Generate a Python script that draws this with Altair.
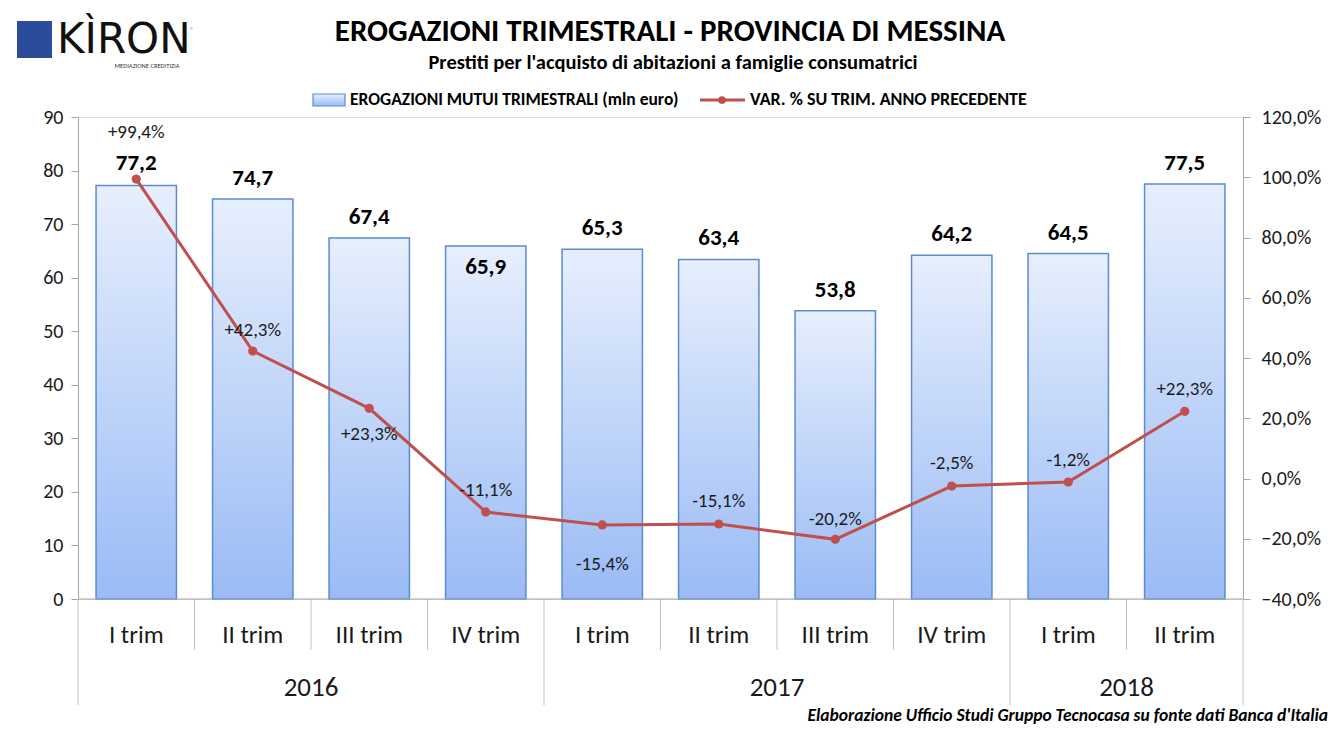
import altair as alt
import pandas as pd

# ---------------- data ----------------
quarters = ["I trim", "II trim", "III trim", "IV trim", "I trim",
            "II trim", "III trim", "IV trim", "I trim", "II trim"]
years = ["2016", "2016", "2016", "2016", "2017",
         "2017", "2017", "2017", "2018", "2018"]
erogazioni = [77.2, 74.7, 67.4, 65.9, 65.3, 63.4, 53.8, 64.2, 64.5, 77.5]
variazione = [99.4, 42.3, 23.3, -11.1, -15.4, -15.1, -20.2, -2.5, -1.2, 22.3]

title_text = "EROGAZIONI TRIMESTRALI - PROVINCIA DI MESSINA"
subtitle_text = "Prestiti per l'acquisto di abitazioni a famiglie consumatrici"
legend_bar = "EROGAZIONI MUTUI TRIMESTRALI (mln euro)"
legend_line = "VAR. % SU TRIM. ANNO PRECEDENTE"
footnote = "Elaborazione  Ufficio Studi Gruppo Tecnocasa su fonte dati Banca d'Italia"

# ---------------- styling ----------------
W, H = 1165, 482
FONT = "Carlito, Lato, sans-serif"
TXT = "#1a1a1a"
GRAY = "#a6a6a6"
RED = "#c0504d"
BAR_STROKE = "#5b8bd0"
grad = alt.Gradient(
    gradient="linear",
    stops=[alt.GradientStop(color="#e7effd", offset=0),
           alt.GradientStop(color="#9abbf5", offset=1)],
    x1=0, x2=0, y1=0, y2=1,
)
# label offsets in pixels (styling only)
bar_dy = {0: -23, 3: 21}
line_dy = {0: -47, 1: -21, 2: 26, 3: -22, 4: 39, 5: -23, 6: -20, 7: -23, 8: -22, 9: -22}

n = len(quarters)
df = pd.DataFrame({"idx": range(n), "quarter": quarters, "year": years,
                   "erog": erogazioni, "var": variazione})
df["center"] = df["idx"] + 0.5
df["x0"] = df["idx"] + 0.155
df["x1"] = df["idx"] + 0.845
df["blabel"] = [f"{v:.1f}".replace(".", ",") for v in erogazioni]
df["llabel"] = [("+" if v > 0 else "") + f"{v:.1f}".replace(".", ",") + "%" for v in variazione]
df["bdy"] = [bar_dy.get(i, -21) for i in range(n)]
df["ldy"] = [line_dy.get(i, -22) for i in range(n)]

# separators
year_bounds = [0] + [i for i in range(1, n) if years[i] != years[i - 1]] + [n]
q_bounds = [i for i in range(1, n) if i not in year_bounds]
ysep = pd.DataFrame({"pos": year_bounds})
qsep = pd.DataFrame({"pos": q_bounds})
ydf = df.groupby("year", as_index=False)["center"].mean()

xs = alt.Scale(domain=[0, n], nice=False, zero=False)

sep_q = alt.Chart(qsep).mark_rule(color="#bfbfbf", strokeWidth=1).encode(
    x=alt.X("pos:Q", scale=xs, axis=None), y=alt.value(H), y2=alt.value(H + 51))
sep_y = alt.Chart(ysep).mark_rule(color="#bfbfbf", strokeWidth=1).encode(
    x=alt.X("pos:Q", scale=xs, axis=None), y=alt.value(H), y2=alt.value(H + 106))

base = alt.Chart(df)

bars = base.mark_bar(fill=grad, stroke=BAR_STROKE, strokeWidth=1.5).encode(
    x=alt.X("x0:Q", scale=xs, axis=None),
    x2="x1:Q",
    y=alt.Y("erog:Q", scale=alt.Scale(domain=[0, 90], nice=False),
            axis=alt.Axis(values=list(range(0, 91, 10)), title=None, grid=False,
                          domainColor=GRAY, tickColor=GRAY, tickSize=7,
                          labelFontSize=20, labelColor=TXT, labelFont=FONT,
                          labelPadding=8)),
    y2=alt.datum(0),
)
bar_label_layers = [
    base.transform_filter(alt.datum.bdy == d).mark_text(
        fontSize=23, fontWeight="bold", font=FONT, color="#000",
        baseline="middle", dy=d).encode(
        x=alt.X("center:Q", scale=xs, axis=None),
        y=alt.Y("erog:Q"),
        text="blabel:N",
    )
    for d in sorted(set(df["bdy"]))
]
bar_group = alt.layer(bars, *bar_label_layers)

line = base.mark_line(color=RED, strokeWidth=3).encode(
    x=alt.X("center:Q", scale=xs, axis=None),
    y=alt.Y("var:Q", scale=alt.Scale(domain=[-40, 120], nice=False),
            axis=alt.Axis(orient="right", values=list(range(-40, 121, 20)), title=None,
                          grid=False, domainColor=GRAY, tickColor=GRAY, tickSize=7,
                          labelFontSize=20, labelColor=TXT, labelFont=FONT,
                          labelPadding=11,
                          labelExpr="replace(format(datum.value, '.1f'), '.', ',') + '%'")),
)
points = base.mark_circle(color=RED, size=85, opacity=1).encode(
    x=alt.X("center:Q", scale=xs, axis=None), y="var:Q")
line_label_layers = [
    base.transform_filter(alt.datum.ldy == d).mark_text(
        fontSize=19, font=FONT, color=TXT, baseline="middle", dy=d).encode(
        x=alt.X("center:Q", scale=xs, axis=None),
        y="var:Q",
        text="llabel:N",
    )
    for d in sorted(set(df["ldy"]))
]
line_group = alt.layer(line, points, *line_label_layers)

one = pd.DataFrame({"a": [0]})

# x axis line
xline = alt.Chart(one).mark_rule(color=GRAY, strokeWidth=1).encode(
    x=alt.value(0), x2=alt.value(W), y=alt.value(H))

cat_labels = base.mark_text(fontSize=25, font=FONT, color=TXT, baseline="middle").encode(
    x=alt.X("center:Q", scale=xs, axis=None), y=alt.value(H + 36), text="quarter:N")
year_labels = alt.Chart(ydf).mark_text(fontSize=27, font=FONT, color=TXT,
                                       baseline="middle").encode(
    x=alt.X("center:Q", scale=xs, axis=None), y=alt.value(H + 89), text="year:N")


def txt(text, x, y, size, weight="normal", align="center", style="normal",
        color=TXT, baseline="middle", font=FONT):
    return alt.Chart(one).mark_text(
        text=text, fontSize=size, fontWeight=weight, align=align, fontStyle=style,
        font=font, color=color, baseline=baseline).encode(x=alt.value(x), y=alt.value(y))


title = txt(title_text, 592, -85, 31, "bold", color="#000")
subtitle = txt(subtitle_text, 595, -54, 20.5, "bold", color="#000")

leg_rect = alt.Chart(one).mark_rect(fill=grad, stroke=BAR_STROKE, strokeWidth=1.2).encode(
    x=alt.value(235), x2=alt.value(267), y=alt.value(-23), y2=alt.value(-11))
leg_t1 = txt(legend_bar, 272, -17, 17.5, "bold", align="left", color="#000")
leg_line = alt.Chart(one).mark_rule(color=RED, strokeWidth=3).encode(
    x=alt.value(622), x2=alt.value(667), y=alt.value(-17))
leg_pt = alt.Chart(one).mark_circle(color=RED, size=60, opacity=1).encode(
    x=alt.value(644), y=alt.value(-17))
leg_t2 = txt(legend_line, 672, -17, 18, "bold", align="left", color="#000")

logo_sq = alt.Chart(one).mark_rect(fill="#2b4c9b").encode(
    x=alt.value(-61), x2=alt.value(-26), y=alt.value(-96), y2=alt.value(-59))
logo_t = txt("KÌRON", -21, -77, 42, align="left", color="#111", font="DejaVu Sans")
logo_r = txt("®", 114, -87, 9, color="#888")
logo_sub = txt("MEDIAZIONE CREDITIZIA", 69, -51, 6.5, color="#333")

foot = txt(footnote, 1250, 604, 17.5, "bold", align="right", style="italic",
           color="#000", baseline="alphabetic")

chart = alt.layer(
    sep_q, sep_y, bar_group, xline, line_group, cat_labels, year_labels,
    title, subtitle, leg_rect, leg_t1, leg_line, leg_pt, leg_t2,
    logo_sq, logo_t, logo_r, logo_sub, foot,
).resolve_scale(y="independent").properties(
    width=W, height=H,
    autosize=alt.AutoSizeParams(type="none"),
    padding={"left": 70, "top": 109, "right": 87, "bottom": 126},
).configure_view(stroke=None).configure(background="white")

chart.save("out.html", embed_options={"renderer": "svg", "actions": False})
